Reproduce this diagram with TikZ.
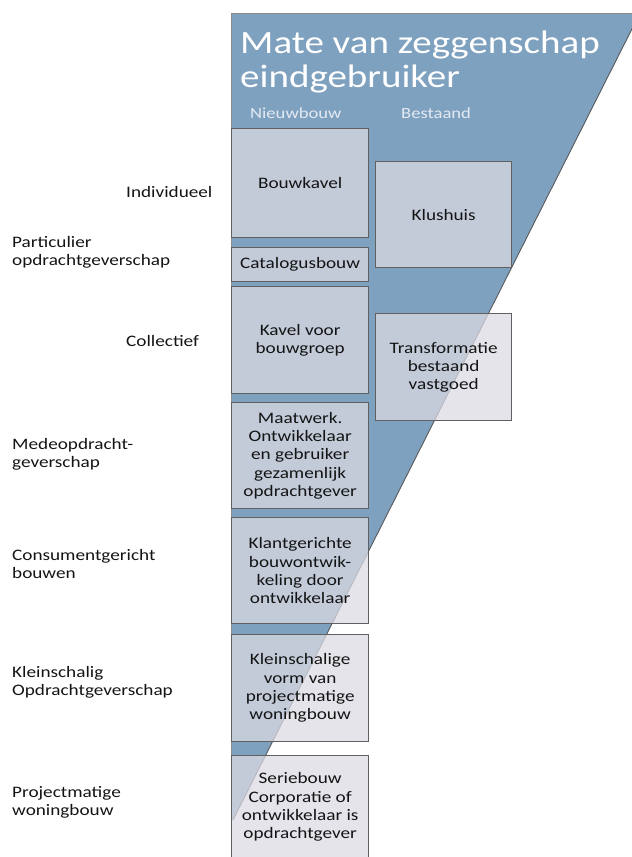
\documentclass[tikz,border=0pt]{standalone}
\usepackage{fontspec}
\setmainfont{Carlito}[FakeStretch=1.2]
\definecolor{funnelblue}{RGB}{127,161,192}
\definecolor{boxfill}{RGB}{219,218,226}
\definecolor{boxline}{RGB}{96,96,96}
\definecolor{headtext}{RGB}{228,234,242}
\definecolor{bodytext}{RGB}{20,20,20}
\newcommand{\twolines}[2]{\vtop{\hbox{#1}\hbox{#2}}}
\tikzset{
  cell/.style={draw=boxline, line width=1.3pt, fill=boxfill, fill opacity=0.74, text opacity=1,
    anchor=north west, align=center, inner sep=0pt, text=bodytext,
    font=\fontsize{16}{18.3}\selectfont},
  leftcell/.style={cell, minimum width=137pt},
  rightcell/.style={cell, minimum width=136pt},
  sidelabel/.style={anchor=base west, inner sep=0pt, text=bodytext,
    font=\fontsize{16}{18.3}\selectfont},
  colhead/.style={anchor=base west, inner sep=0pt, text=headtext,
    font=\fontsize{15.5}{18}\selectfont},
  titletext/.style={anchor=base west, inner sep=0pt, text=white,
    font=\fontsize{32.5}{34}\selectfont}
}
\begin{document}
\begin{tikzpicture}[x=1pt,y=-1pt]
\useasboundingbox (0,0) rectangle (632,857);
% funnel
\begin{scope}
\clip (0,0) rectangle (632,857);
\fill[funnelblue] (231,13) -- (640,13) -- (233,820) -- (231,820) -- cycle;
\draw[black!45, line width=0.9pt] (231,820) -- (231,13) -- (640,13);
\draw[black!65, line width=0.9pt] (640,13) -- (233,820);
\end{scope}
% title and column heads
\node[titletext] (title) at (240,53) {\vtop{\hbox{Mate van zeggenschap}\hbox{eindgebruiker}}};
\node[colhead] (nieuw) at (250,118) {Nieuwbouw};
\node[colhead] (best) at (401,118) {Bestaand};
% left column boxes
\node[leftcell, minimum height=109pt] (bouwkavel) at (231,128) {Bouwkavel};
\node[leftcell, minimum height=34pt] (catalogus) at (231,247) {Catalogusbouw};
\node[leftcell, minimum height=107pt] (kavel) at (231,286) {Kavel voor\\bouwgroep};
\node[leftcell, minimum height=106pt] (maatwerk) at (231,402) {Maatwerk.\\Ontwikkelaar\\en gebruiker\\gezamenlijk\\opdrachtgever};
\node[leftcell, minimum height=106pt] (klant) at (231,517) {Klantgerichte\\bouwontwik-\\keling door\\ontwikkelaar};
\node[leftcell, minimum height=107pt] (klein) at (231,634) {Kleinschalige\\vorm van\\projectmatige\\woningbouw};
\node[leftcell, minimum height=103pt] (serie) at (231,755) {Seriebouw\\Corporatie of\\ontwikkelaar is\\opdrachtgever};
% right column boxes
\node[rightcell, minimum height=106pt] (klushuis) at (375,161) {Klushuis};
\node[rightcell, minimum height=107pt] (transf) at (375,313) {Transformatie\\bestaand\\vastgoed};
% side labels
\node[sidelabel] (indiv) at (126,197) {Individueel};
\node[sidelabel] (partic) at (12,247) {\twolines{Particulier}{opdrachtgeverschap}};
\node[sidelabel] (collect) at (126,346) {Collectief};
\node[sidelabel] (medeo) at (12,449) {\twolines{Medeopdracht-}{geverschap}};
\node[sidelabel] (consum) at (12,560) {\twolines{Consumentgericht}{bouwen}};
\node[sidelabel] (kleinsch) at (12,677) {\twolines{Kleinschalig}{Opdrachtgeverschap}};
\node[sidelabel] (project) at (12,797) {\twolines{Projectmatige}{woningbouw}};
\end{tikzpicture}
\end{document}
